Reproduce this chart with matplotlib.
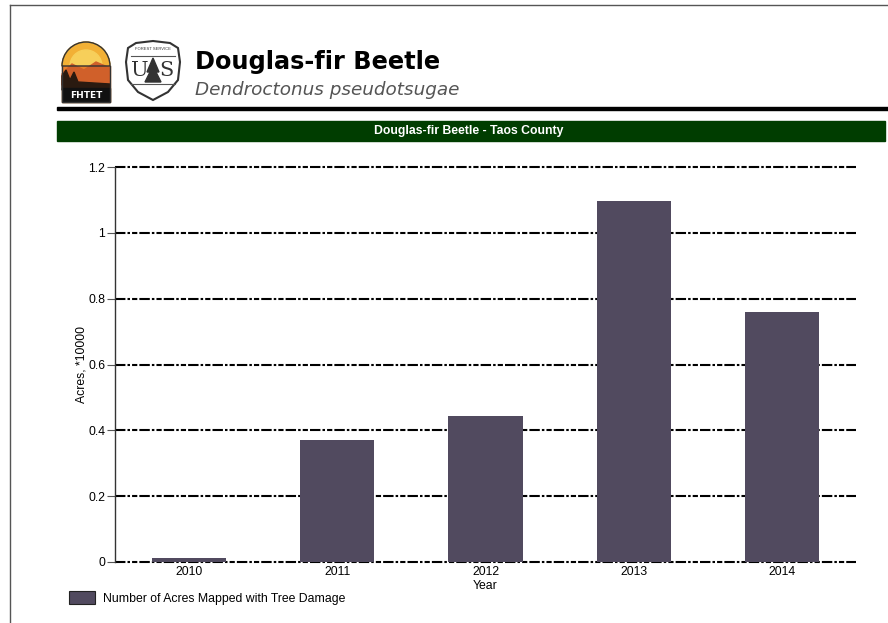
import numpy as np
import matplotlib
matplotlib.use("Agg")
import matplotlib.pyplot as plt
from matplotlib.patches import Rectangle, Polygon, Wedge

# data
years = ["2010", "2011", "2012", "2013", "2014"]
acres = [0.013, 0.371, 0.444, 1.097, 0.760]  # acres * 10000
yticks = [0, 0.2, 0.4, 0.6, 0.8, 1.0, 1.2]
ytick_labels = ["0", "0.2", "0.4", "0.6", "0.8", "1", "1.2"]

bar_color = "#514a5f"
green = "#003d00"

plt.rcParams['font.family'] = ['Liberation Sans', 'DejaVu Sans']

fig = plt.figure(figsize=(8.88, 6.23), dpi=100)

# overlay in pixel coords for the page decoration
deco = fig.add_axes([0, 0, 1, 1])
deco.set_xlim(0, 888)
deco.set_ylim(623, 0)
deco.axis("off")

# page frame
deco.plot([10, 10], [623, 5], color="#555555", lw=1)
deco.plot([10, 888], [5, 5], color="#555555", lw=1)

# FHTET logo: arch with sunset + black base
deco.add_patch(Wedge((86, 66), 24, 180, 360, color="#f2b035"))
deco.add_patch(Wedge((86, 66), 16, 180, 360, color="#f7cf5a"))
deco.add_patch(Rectangle((62, 66), 48, 36, color="#e8802a"))
deco.add_patch(Polygon([[62, 74], [72, 64], [84, 70], [96, 62], [110, 68], [110, 85], [62, 85]],
                       color="#d0602a"))
deco.add_patch(Polygon([[62, 90], [62, 76], [66, 70], [70, 80], [74, 72], [78, 82], [110, 84], [110, 90]],
                       color="#2a1a10"))
deco.add_patch(Rectangle((62, 88), 48, 14, color="#111111"))
deco.add_patch(Wedge((86, 66), 24, 180, 360, fill=False, edgecolor="#333333", lw=1))
deco.plot([62, 62, 110, 110], [66, 102, 102, 66], color="#333333", lw=1)
deco.text(86, 95.5, "FHTET", color="white", fontsize=6.5, fontweight="bold",
          ha="center", va="center", family="DejaVu Sans")

# Forest Service shield
shield = Polygon([[128, 48], [136, 43], [153, 41], [170, 43], [178, 48], [180, 62],
                  [178, 80], [168, 92], [153, 100], [138, 92], [128, 80], [126, 62]],
                 facecolor="white", edgecolor="#333333", lw=1.5)
deco.add_patch(shield)
deco.plot([131, 175], [56, 56], color="#555555", lw=0.8)
deco.plot([131, 175], [84, 84], color="#555555", lw=0.8)
deco.text(153, 49.5, "FOREST SERVICE", fontsize=3, ha="center", va="center", color="#333333")
deco.text(140, 71, "U", fontsize=15, ha="center", va="center", color="#333333",
          family="DejaVu Serif")
deco.text(166, 71, "S", fontsize=15, ha="center", va="center", color="#333333",
          family="DejaVu Serif")
deco.add_patch(Polygon([[153, 58], [147, 72], [150, 72], [145, 82], [161, 82], [156, 72], [159, 72]],
                       color="#333333"))

# title block
deco.text(195, 62, "Douglas-fir Beetle", fontsize=17.3, fontweight="bold",
          ha="left", va="center", family="DejaVu Sans", color="black")
deco.text(195, 90, "Dendroctonus pseudotsugae", fontsize=13.2, style="italic",
          ha="left", va="center", family="DejaVu Sans", color="#555555")
deco.add_patch(Rectangle((57, 106.5), 831, 3.5, color="black"))

# green chart header
deco.add_patch(Rectangle((57, 121), 828, 20, color=green))
deco.text(469, 131, "Douglas-fir Beetle - Taos County", fontsize=8.8, fontweight="bold",
          ha="center", va="center", color="white")

# legend
deco.add_patch(Rectangle((69, 591), 26, 13, facecolor=bar_color, edgecolor="#222222", lw=0.8))
deco.text(103, 599, "Number of Acres Mapped with Tree Damage", fontsize=8.8,
          ha="left", va="center", color="black")

# chart
ax = fig.add_axes([115 / 888, 1 - 562 / 623, 741 / 888, 395 / 623])
x = np.arange(len(years))
ax.bar(x, acres, width=0.5, color=bar_color, zorder=3)
ax.set_xlim(-0.5, len(years) - 0.5)
ax.set_ylim(0, 1.2)
ax.set_yticks(yticks)
ax.set_yticklabels(ytick_labels)
ax.set_xticks(x)
ax.set_xticklabels(years)
for y in yticks:
    ax.axhline(y, color="black", lw=1.5, dashes=(5, 1, 1.2, 1, 2.5, 1), zorder=2, clip_on=False)
for s in ["top", "right", "bottom"]:
    ax.spines[s].set_visible(False)
ax.spines["left"].set_color("#333333")
ax.spines["left"].set_linewidth(1)
ax.tick_params(axis="y", length=6, width=0.8, color="#555555", labelsize=8.8, pad=1)
ax.tick_params(axis="x", length=0, labelsize=8.8, pad=3)
ax.set_ylabel("Acres, *10000", fontsize=8.8)
ax.yaxis.set_label_coords(-0.037, 0.5)
ax.set_xlabel("Year", fontsize=8.8, labelpad=1)

fig.savefig("out.png", dpi=100)
